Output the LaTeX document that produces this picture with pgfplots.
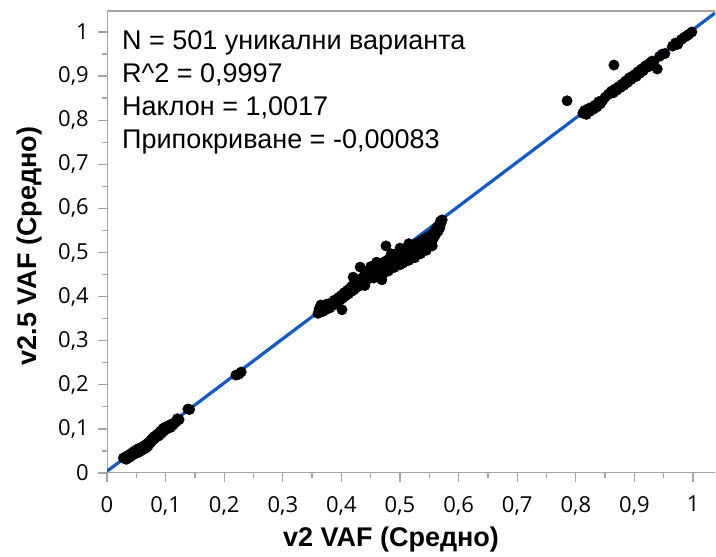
\documentclass[border=0pt]{standalone}
\usepackage{pgfplots}
\pgfplotsset{compat=1.18}
\usepackage{fontspec}
\setmainfont{Liberation Sans}
\newfontfamily\tickfont{Open Sans}
\definecolor{axgray}{RGB}{165,165,165}
\definecolor{fitblue}{RGB}{15,90,210}
\begin{document}
\begin{tikzpicture}[x=1bp,y=1bp]
\path[use as bounding box] (0,0) rectangle (716,557);
\begin{axis}[
  at={(107bp,84bp)}, anchor=south west,
  scale only axis, width=608bp, height=462bp,
  xmin=0, xmax=1.0375, ymin=0, ymax=1.0476,
  xtick={0,0.1,0.2,0.3,0.4,0.5,0.6,0.7,0.8,0.9,1},
  ytick={0,0.1,0.2,0.3,0.4,0.5,0.6,0.7,0.8,0.9,1},
  xticklabels={0,{0,1},{0,2},{0,3},{0,4},{0,5},{0,6},{0,7},{0,8},{0,9},1},
  yticklabels={0,{0,1},{0,2},{0,3},{0,4},{0,5},{0,6},{0,7},{0,8},{0,9},1},
  minor tick num=1,
  tick align=outside,
  major tick length=9bp, minor tick length=5bp,
  every tick/.style={axgray, line width=1.3bp},
  xtick pos=bottom, ytick pos=left,
  axis line style={draw=none},
  ticklabel style={font=\tickfont\fontsize{22bp}{26bp}\selectfont, text=black},
  xticklabel style={inner sep=0pt, yshift=-14bp},
  yticklabel style={inner sep=0pt, xshift=-9bp},
  clip=true,
]
\draw[axgray, line width=1.5bp] (rel axis cs:0,1) -- (rel axis cs:1,1);
\draw[axgray, line width=1.5bp] (rel axis cs:0,1) -- (rel axis cs:0,0) -- (rel axis cs:1,0);
\addplot[only marks, mark=*, mark size=5.2bp, black] coordinates {
(0.028,0.034)(0.031,0.036)(0.033,0.031)(0.035,0.039)(0.036,0.035)(0.038,0.041)(0.039,0.036)(0.040,0.043)(0.041,0.038)(0.042,0.040)
(0.043,0.046)(0.044,0.041)(0.045,0.043)(0.046,0.049)(0.047,0.044)(0.048,0.046)(0.049,0.051)(0.050,0.045)(0.051,0.048)(0.052,0.054)
(0.053,0.050)(0.054,0.047)(0.055,0.056)(0.056,0.052)(0.057,0.055)(0.058,0.050)(0.059,0.058)(0.060,0.056)(0.061,0.053)(0.062,0.060)
(0.063,0.058)(0.064,0.055)(0.065,0.063)(0.066,0.060)(0.067,0.057)(0.068,0.066)(0.069,0.064)(0.070,0.061)(0.071,0.069)(0.072,0.067)
(0.073,0.071)(0.074,0.068)(0.075,0.074)(0.076,0.072)(0.077,0.078)(0.078,0.075)(0.079,0.080)(0.080,0.077)(0.081,0.083)(0.082,0.079)
(0.084,0.085)(0.085,0.082)(0.086,0.088)(0.088,0.084)(0.089,0.091)(0.090,0.087)(0.091,0.094)(0.093,0.090)(0.094,0.098)(0.096,0.101)
(0.097,0.095)(0.099,0.104)(0.100,0.098)(0.102,0.100)(0.104,0.103)(0.106,0.108)(0.108,0.103)(0.110,0.111)(0.112,0.108)(0.115,0.113)
(0.118,0.116)(0.120,0.123)(0.123,0.121)(0.138,0.145)(0.141,0.144)
(0.220,0.222)(0.225,0.224)(0.229,0.229)
(0.360,0.362)(0.362,0.372)(0.365,0.381)(0.368,0.366)(0.370,0.376)(0.373,0.370)(0.375,0.383)(0.378,0.377)(0.380,0.374)(0.383,0.386)
(0.385,0.380)(0.388,0.392)(0.390,0.385)(0.393,0.390)(0.395,0.398)(0.398,0.392)(0.401,0.370)(0.400,0.403)(0.403,0.397)(0.405,0.409)
(0.407,0.402)(0.410,0.414)(0.412,0.406)(0.414,0.418)(0.416,0.411)(0.418,0.424)(0.420,0.444)(0.421,0.415)(0.423,0.428)(0.425,0.420)
(0.427,0.433)(0.429,0.423)(0.432,0.467)(0.431,0.438)(0.433,0.427)(0.435,0.442)(0.437,0.431)(0.439,0.447)(0.441,0.436)(0.443,0.458)
(0.444,0.450)(0.446,0.440)(0.448,0.456)(0.450,0.446)(0.452,0.461)(0.453,0.449)(0.455,0.465)(0.456,0.452)(0.458,0.470)(0.460,0.455)
(0.461,0.463)(0.463,0.450)(0.465,0.468)(0.466,0.458)(0.468,0.474)(0.469,0.438)(0.470,0.462)(0.472,0.478)(0.473,0.466)(0.474,0.455)
(0.476,0.515)(0.476,0.470)(0.478,0.482)(0.479,0.463)(0.481,0.475)(0.482,0.486)(0.484,0.468)(0.485,0.479)(0.487,0.490)(0.488,0.472)
(0.490,0.483)(0.491,0.494)(0.493,0.476)(0.494,0.487)(0.496,0.498)(0.497,0.480)(0.499,0.491)(0.500,0.472)(0.501,0.502)(0.503,0.485)
(0.504,0.495)(0.506,0.478)(0.507,0.506)(0.509,0.489)(0.510,0.499)(0.512,0.483)(0.513,0.510)(0.515,0.493)(0.516,0.503)(0.518,0.487)
(0.519,0.514)(0.521,0.497)(0.522,0.507)(0.524,0.492)(0.525,0.518)(0.527,0.502)(0.528,0.511)(0.530,0.496)(0.531,0.522)(0.533,0.507)
(0.534,0.516)(0.536,0.501)(0.537,0.527)(0.539,0.512)(0.540,0.521)(0.542,0.507)(0.543,0.532)(0.545,0.517)(0.546,0.526)(0.548,0.514)
(0.549,0.537)(0.551,0.523)(0.552,0.532)(0.554,0.520)(0.555,0.528)(0.556,0.543)(0.558,0.534)(0.560,0.550)(0.561,0.541)(0.563,0.556)
(0.565,0.548)(0.566,0.561)(0.568,0.556)(0.570,0.567)(0.572,0.574)(0.569,0.571)
(0.440,0.425)(0.455,0.442)(0.470,0.450)(0.480,0.458)(0.490,0.466)(0.505,0.476)(0.515,0.482)(0.525,0.488)(0.535,0.497)(0.545,0.505)
(0.555,0.515)(0.450,0.468)(0.460,0.478)(0.485,0.497)(0.500,0.510)(0.515,0.520)
(0.785,0.844)(0.865,0.925)(0.939,0.916)
(0.812,0.816)(0.815,0.822)(0.818,0.813)(0.821,0.826)(0.824,0.820)(0.827,0.829)(0.830,0.825)(0.833,0.834)(0.836,0.830)(0.839,0.842)
(0.842,0.837)(0.846,0.845)(0.850,0.852)(0.855,0.858)(0.858,0.861)(0.861,0.866)(0.864,0.862)(0.867,0.871)(0.870,0.868)(0.873,0.876)
(0.876,0.874)(0.879,0.882)(0.882,0.879)(0.885,0.889)(0.888,0.885)(0.891,0.896)(0.894,0.892)(0.897,0.900)(0.900,0.903)(0.903,0.899)
(0.906,0.910)(0.909,0.906)(0.912,0.916)(0.915,0.912)(0.918,0.922)(0.921,0.925)(0.924,0.921)(0.927,0.930)(0.930,0.934)(0.933,0.931)
(0.943,0.945)(0.948,0.950)(0.952,0.951)(0.965,0.968)(0.970,0.975)(0.974,0.972)(0.980,0.983)(0.985,0.988)(0.989,0.991)(0.993,0.995)
(0.998,1.000)
};
\addplot[fitblue, line width=3.2bp] coordinates {(0,0.004) (1.0375,1.0430)};
\end{axis}
\begin{scope}[font=\fontsize{27bp}{32bp}\selectfont]
\node[anchor=base west, inner sep=0pt] at (122,557-49.7) {N = 501 уникални варианта};
\node[anchor=base west, inner sep=0pt] at (122,557-82.7) {R\^{}2 = 0,9997};
\node[anchor=base west, inner sep=0pt] at (122,557-115.7) {Наклон = 1,0017};
\node[anchor=base west, inner sep=0pt] at (122,557-148.7) {Припокриване = -0,00083};
\end{scope}
\node[font=\bfseries\fontsize{27bp}{32bp}\selectfont, inner sep=0pt] at (391,557-540) {v2 VAF (Средно)};
\node[font=\bfseries\fontsize{27bp}{32bp}\selectfont, inner sep=0pt, rotate=90] at (30,557-246) {v2.5 VAF (Средно)};
\end{tikzpicture}
\end{document}
